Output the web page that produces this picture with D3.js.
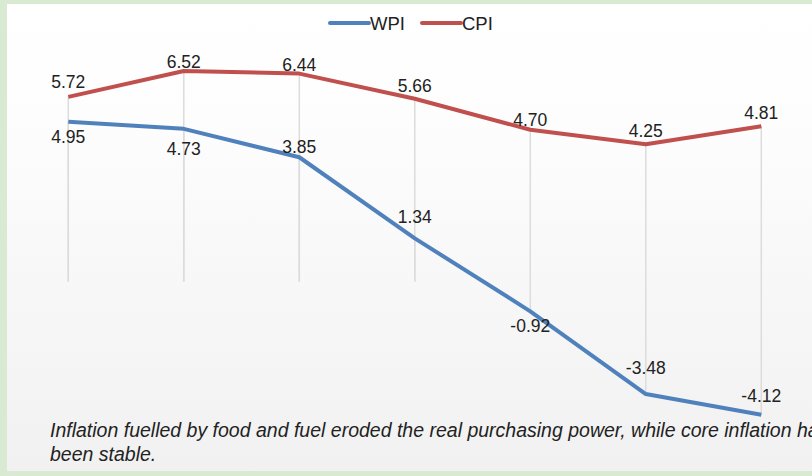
<!DOCTYPE html>
<meta charset="utf-8">
<script src="https://cdn.jsdelivr.net/npm/d3@7"></script>
<style>
  body { margin: 0; background: #d9ead3; }
  svg { display: block; font-family: "Liberation Sans", Arial, sans-serif; }
</style>
<body>
<script>

// chart data
var series_names = ["WPI", "CPI"]
var wpi = [4.95, 4.73, 3.85, 1.34, -0.92, -3.48, -4.12]
var cpi = [5.72, 6.52, 6.44, 5.66, 4.70, 4.25, 4.81]
var caption = ["Inflation fuelled by food and fuel eroded the real purchasing power, while core inflation has",
               "been stable."]

var width = 812
var height = 476
var colors = {WPI: "#4f81bd", CPI: "#c0504d"}

var svg = d3.select("body").append("svg")
            .attr("width", width)
            .attr("height", height)

// panel background
var grad = svg.append("defs").append("linearGradient")
              .attr("id", "bg").attr("x1", 0).attr("y1", 0).attr("x2", 0).attr("y2", 1)
grad.append("stop").attr("offset", "0").attr("stop-color", "#ffffff")
grad.append("stop").attr("offset", "0.25").attr("stop-color", "#fdfdfd")
grad.append("stop").attr("offset", "1").attr("stop-color", "#f1f1f1")

svg.append("rect").attr("width", width).attr("height", height).attr("fill", "#d9ead3")
svg.append("rect").attr("x", 7).attr("y", 4).attr("width", width).attr("height", 467)
   .attr("fill", "url(#bg)")

// scales
var x = d3.scaleLinear().domain([0, wpi.length - 1]).range([68.3, 761.3])
var y = d3.scaleLinear().domain([-5, 7]).range([443.1, 55.5])

// drop lines, one per point down (or up) to zero
var drops = svg.append("g")
;[wpi, cpi].forEach(function(s) {
  drops.selectAll(null).data(s).enter().append("line")
       .attr("x1", function(d, i) { return x(i) })
       .attr("x2", function(d, i) { return x(i) })
       .attr("y1", function(d) { return y(d) })
       .attr("y2", y(0))
       .attr("stroke", "#dcdcdc")
       .attr("stroke-width", 1.5)
})

var line = d3.line().x(function(d, i) { return x(i) }).y(function(d) { return y(d) })

svg.append("path").attr("d", line(cpi)).attr("fill", "none")
   .attr("stroke", colors.CPI).attr("stroke-width", 4).attr("stroke-linejoin", "round")
svg.append("path").attr("d", line(wpi)).attr("fill", "none")
   .attr("stroke", colors.WPI).attr("stroke-width", 4).attr("stroke-linejoin", "round")

// data labels, baseline offset from the point (excel moved some to dodge the line)
var cpi_dy = [-9, -3, -3, -7, -4, -7, -7]
var wpi_dy = [21, 26, -4, -15, 21, -20, -13]

svg.append("g").selectAll("text").data(cpi).enter().append("text")
   .attr("x", function(d, i) { return x(i) })
   .attr("y", function(d, i) { return y(d) + cpi_dy[i] })
   .attr("text-anchor", "middle")
   .attr("font-size", 17.5)
   .attr("fill", "#222")
   .text(function(d) { return d.toFixed(2) })

svg.append("g").selectAll("text").data(wpi).enter().append("text")
   .attr("x", function(d, i) { return x(i) })
   .attr("y", function(d, i) { return y(d) + wpi_dy[i] })
   .attr("text-anchor", "middle")
   .attr("font-size", 17.5)
   .attr("fill", "#222")
   .text(function(d) { return d.toFixed(2) })

// legend
var legend = svg.append("g").attr("transform", "translate(330,23)")
var lx = 0
series_names.forEach(function(name) {
  legend.append("line").attr("x1", lx).attr("x2", lx + 39).attr("y1", 0).attr("y2", 0)
        .attr("stroke", colors[name]).attr("stroke-width", 4).attr("stroke-linecap", "round")
  legend.append("text").attr("x", lx + 40).attr("y", 6.5)
        .attr("font-size", 18.5).attr("fill", "#222").text(name)
  lx += 92
})

// caption
var cap = svg.append("text").attr("font-size", 19.5).attr("font-style", "italic").attr("fill", "#222")
cap.selectAll("tspan").data(caption).enter().append("tspan")
   .attr("x", 50)
   .attr("y", function(d, i) { return 437 + i * 23.5 })
   .text(function(d) { return d })

</script>
</body>
